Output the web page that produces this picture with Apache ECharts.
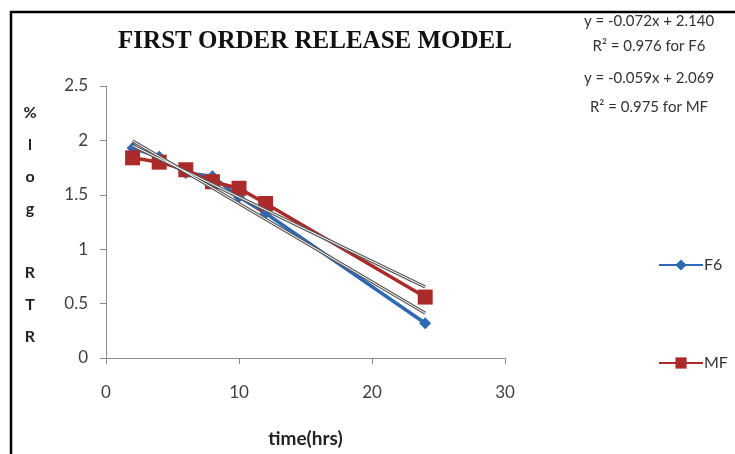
<!DOCTYPE html>
<html><head><meta charset="utf-8">
<style>html,body{margin:0;padding:0;background:#fff}#c{width:735px;height:454px}</style>
<script src="https://cdn.jsdelivr.net/npm/echarts@6/dist/echarts.min.js"></script>
</head><body><div id="c"></div>
<script>
const times = [2, 4, 6, 8, 10, 12, 24];
const f6 = [1.93, 1.85, 1.70, 1.67, 1.48, 1.33, 0.32];
const mf = [1.84, 1.80, 1.73, 1.62, 1.56, 1.42, 0.56];
// trendline endpoints (x = 2 and x = 24)
const f6Trend = [[2, 1.996], [24, 0.412]];
const mfTrend = [[2, 1.951], [24, 0.653]];
const xTicks = [0, 10, 20, 30];
const yTicks = [0, 0.5, 1, 1.5, 2, 2.5];
const eqLines = ['y = -0.072x + 2.140', 'R² = 0.976 for F6', 'y = -0.059x + 2.069', 'R² = 0.975 for MF'];
const yTitle = ['%', 'l', 'o', 'g', '', 'R', 'T', 'R'];

const blue = '#2f68b3', red = '#ac2a2a';
const font = 'Lato';
const chart = echarts.init(document.getElementById('c'));
const trendSeries = (data) => [
  {type: 'line', data, symbol: 'none', silent: true, z: 5, lineStyle: {color: '#5a5a5a', width: 3.2}, legendHoverLink: false},
  {type: 'line', data, symbol: 'none', silent: true, z: 6, lineStyle: {color: '#ffffff', width: 1}, legendHoverLink: false}
];
chart.setOption({
  animation: false,
  grid: {left: 106, right: 230, top: 86, bottom: 96},
  xAxis: {type: 'value', min: 0, max: 30, interval: 10,
    axisLine: {show: true, lineStyle: {color: '#8c8c8c', width: 1}},
    axisTick: {show: true, length: 6, lineStyle: {color: '#8c8c8c'}},
    splitLine: {show: false},
    axisLabel: {margin: 26, color: '#404040', fontFamily: font, fontSize: 17,
      formatter: v => xTicks.includes(v) ? String(v) : ''},
    name: 'time(hrs)', nameLocation: 'middle', nameGap: 71,
    nameTextStyle: {fontFamily: font, fontWeight: 'bold', fontSize: 19, color: '#222'}
  },
  yAxis: {type: 'value', min: 0, max: 2.5, interval: 0.5,
    axisLine: {show: true, lineStyle: {color: '#8c8c8c', width: 1}},
    axisTick: {show: true, length: 6, lineStyle: {color: '#8c8c8c'}},
    splitLine: {show: false},
    axisLabel: {margin: 18, color: '#404040', fontFamily: font, fontSize: 17,
      formatter: v => yTicks.includes(v) ? String(v) : ''}
  },
  legend: {orient: 'vertical', left: 653, top: 252, itemWidth: 44, itemHeight: 14, itemGap: 82,
    data: ['F6', 'MF'],
    textStyle: {fontFamily: font, fontSize: 16, color: '#333', padding: [0, 0, 0, -4]}},
  series: [
    {name: 'F6', type: 'line', data: times.map((t, i) => [t, f6[i]]), symbol: 'diamond', symbolSize: 12,
      z: 3, lineStyle: {color: blue, width: 3.5}, itemStyle: {color: blue}},
    {name: 'MF', type: 'line', data: times.map((t, i) => [t, mf[i]]), symbol: 'rect', symbolSize: 15,
      z: 4, lineStyle: {color: red, width: 3.5}, itemStyle: {color: red}},
    ...trendSeries(f6Trend),
    ...trendSeries(mfTrend)
  ],
  graphic: [
    {type: 'rect', shape: {x: 11, y: 12, width: 800, height: 500}, style: {fill: 'none', stroke: '#000', lineWidth: 2.5}, silent: true},
    {type: 'text', style: {text: 'FIRST ORDER RELEASE MODEL', x: 315, y: 42, align: 'center', verticalAlign: 'middle',
      font: 'bold 25px "Liberation Serif", "Times New Roman", serif', fill: '#111'}},
    ...eqLines.map((t, i) => ({type: 'text', style: {text: t, x: 649, y: [21, 46, 78, 107][i], align: 'center', verticalAlign: 'middle',
      font: '15px ' + font, fill: '#333'}})),
    ...yTitle.map((t, i) => ({type: 'text', style: {text: t, x: 30, y: 113 + i * 32, align: 'center', verticalAlign: 'middle',
      font: 'bold 16px ' + font, fill: '#222'}}))
  ]
});
</script></body></html>
